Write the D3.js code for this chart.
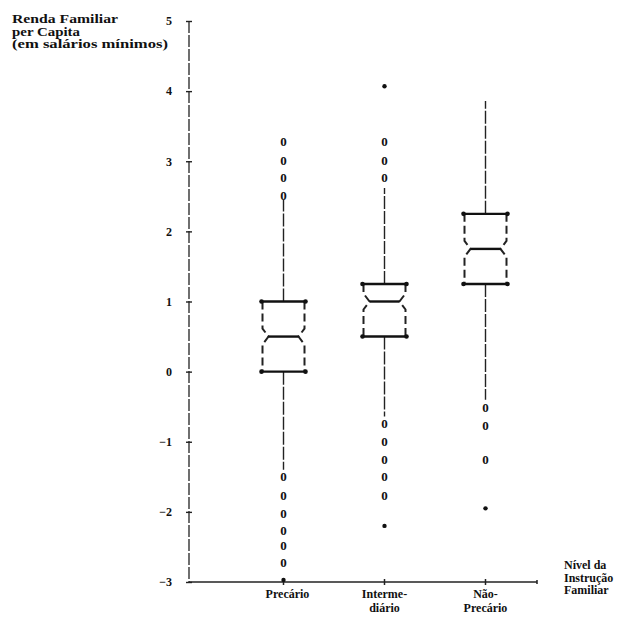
<!DOCTYPE html>
<html>
<head>
<meta charset="utf-8">
<script src="https://cdn.jsdelivr.net/npm/d3@7"></script>
<style>
  body { margin: 0; background: #fff; }
  text { font-family: "Liberation Serif", "DejaVu Serif", serif; font-weight: bold; fill: #111; }
</style>
</head>
<body>
<div id="chart"></div>
<script>
// dados
const categories = ["Precário", "Intermediário", "Não-Precário"]
const catLabels = [["Precário"], ["Interme-", "diário"], ["Não-", "Precário"]]
const q1 = [0, 0.5, 1.25]
const median = [0.5, 1.0, 1.75]
const q3 = [1.0, 1.25, 2.25]
const whiskerLow = [-1.4, -0.64, -0.4]
const whiskerHigh = [2.45, 2.62, 3.86]
const outliers = [
    [3.28, 3.02, 2.77, 2.52, -1.5, -1.76, -2.02, -2.26, -2.48, -2.72],
    [3.28, 3.02, 2.77, -0.74, -1.0, -1.25, -1.5, -1.76],
    [-0.51, -0.76, -1.25]
]
const extremes = [[-2.97], [4.07, -2.2], [-1.95]]
const yTicks = [-3, -2, -1, 0, 1, 2, 3, 4, 5]

const width = 622
const height = 623
const axisX = 189
const axisEnd = 537

const svg = d3.select("#chart").append("svg").attr("width", width).attr("height", height)

const x = d3.scalePoint().domain(categories).range([283.5, 485.5])
const y = d3.scaleLinear().domain([-3, 5]).range([582, 21])

// eixo Y
const yAxisGroup = svg.append("g").attr("transform", `translate(${axisX},0)`)
yAxisGroup.call(d3.axisLeft(y).tickValues(yTicks).tickSize(3).tickPadding(14).tickFormat(d3.format("d")))
yAxisGroup.select(".domain").remove()
yAxisGroup.append("line")
    .attr("x1", 0).attr("x2", 0).attr("y1", y(5)).attr("y2", y(-3))
    .attr("stroke", "#222").attr("stroke-width", 1.3).attr("stroke-dasharray", "12 2")
yAxisGroup.selectAll(".tick line").attr("x1", -3).attr("x2", 3).attr("stroke", "#222").attr("stroke-width", 1.4)
yAxisGroup.selectAll(".tick text").style("font-size", "12px").attr("fill", "#111")

// eixo X
const xAxisGroup = svg.append("g").attr("transform", `translate(0,${y(-3)})`)
xAxisGroup.append("line").attr("x1", axisX).attr("x2", axisEnd).attr("y1", 0).attr("y2", 0)
    .attr("stroke", "#222").attr("stroke-width", 1.7)
xAxisGroup.selectAll(".ctick").data(categories).enter().append("line")
    .attr("x1", d => x(d)).attr("x2", d => x(d)).attr("y1", -3).attr("y2", 3)
    .attr("stroke", "#222").attr("stroke-width", 1.5)
xAxisGroup.append("line").attr("x1", axisEnd).attr("x2", axisEnd).attr("y1", -2).attr("y2", 2)
    .attr("stroke", "#222").attr("stroke-width", 1.5)

categories.forEach((c, i) => {
    catLabels[i].forEach((t, j) => {
        xAxisGroup.append("text")
            .attr("x", x(c) + (i == 0 ? 4 : 0)).attr("y", 16 + j * 14)
            .attr("text-anchor", "middle").style("font-size", "12px").text(t)
    })
})

// títulos
const yTitle = ["Renda Familiar", "per Capita", "(em salários mínimos)"]
const yTitleW = [106, 68, 156]
yTitle.forEach((t, i) => {
    svg.append("text").attr("x", 12).attr("y", 23 + i * 12.5)
        .attr("textLength", yTitleW[i]).attr("lengthAdjust", "spacingAndGlyphs")
        .style("font-size", "12px").text(t)
})
const xTitle = ["Nível da", "Instrução", "Familiar"]
xTitle.forEach((t, i) => {
    svg.append("text").attr("x", 564).attr("y", 569 + i * 12.5)
        .style("font-size", "12px").text(t)
})

// caixas
const boxes = svg.append("g")
const hw = 21, mw = 15, nh = 8
categories.forEach((c, i) => {
    const cx = x(c)
    const g = boxes.append("g")
    // bigodes
    g.append("line").attr("x1", cx).attr("x2", cx).attr("y1", y(q3[i])).attr("y2", y(whiskerHigh[i]))
        .attr("stroke", "#222").attr("stroke-width", 1.4).attr("stroke-dasharray", "13 2")
    g.append("line").attr("x1", cx).attr("x2", cx).attr("y1", y(q1[i])).attr("y2", y(whiskerLow[i]))
        .attr("stroke", "#222").attr("stroke-width", 1.4).attr("stroke-dasharray", "13 2")
    // lados com entalhe
    const ym = y(median[i])
    ;[-1, 1].forEach(s => {
        const pts = [
            [cx + s * hw, y(q3[i])], [cx + s * hw, ym - nh], [cx + s * mw, ym],
            [cx + s * hw, ym + nh], [cx + s * hw, y(q1[i])]
        ]
        g.append("path").attr("d", d3.line()(pts)).attr("fill", "none")
            .attr("stroke", "#222").attr("stroke-width", 2).attr("stroke-dasharray", "8 4")
    })
    // quartis
    ;[q1[i], q3[i]].forEach(v => {
        g.append("line").attr("x1", cx - hw - 1).attr("x2", cx + hw + 1).attr("y1", y(v)).attr("y2", y(v))
            .attr("stroke", "#111").attr("stroke-width", 2.4)
        ;[-1, 1].forEach(s => {
            g.append("circle").attr("cx", cx + s * (hw + 1)).attr("cy", y(v)).attr("r", 2.3).attr("fill", "#111")
        })
    })
    // mediana
    g.append("line").attr("x1", cx - mw).attr("x2", cx + mw).attr("y1", ym).attr("y2", ym)
        .attr("stroke", "#111").attr("stroke-width", 2.4)

    // valores atípicos
    g.selectAll(".out").data(outliers[i]).enter().append("text")
        .attr("x", cx).attr("y", d => y(d)).attr("dy", "0.36em")
        .attr("text-anchor", "middle").style("font-size", "13px").text("0")
    g.selectAll(".ext").data(extremes[i]).enter().append("circle")
        .attr("cx", cx).attr("cy", d => y(d)).attr("r", 2.2).attr("fill", "#111")
})
</script>
</body>
</html>
